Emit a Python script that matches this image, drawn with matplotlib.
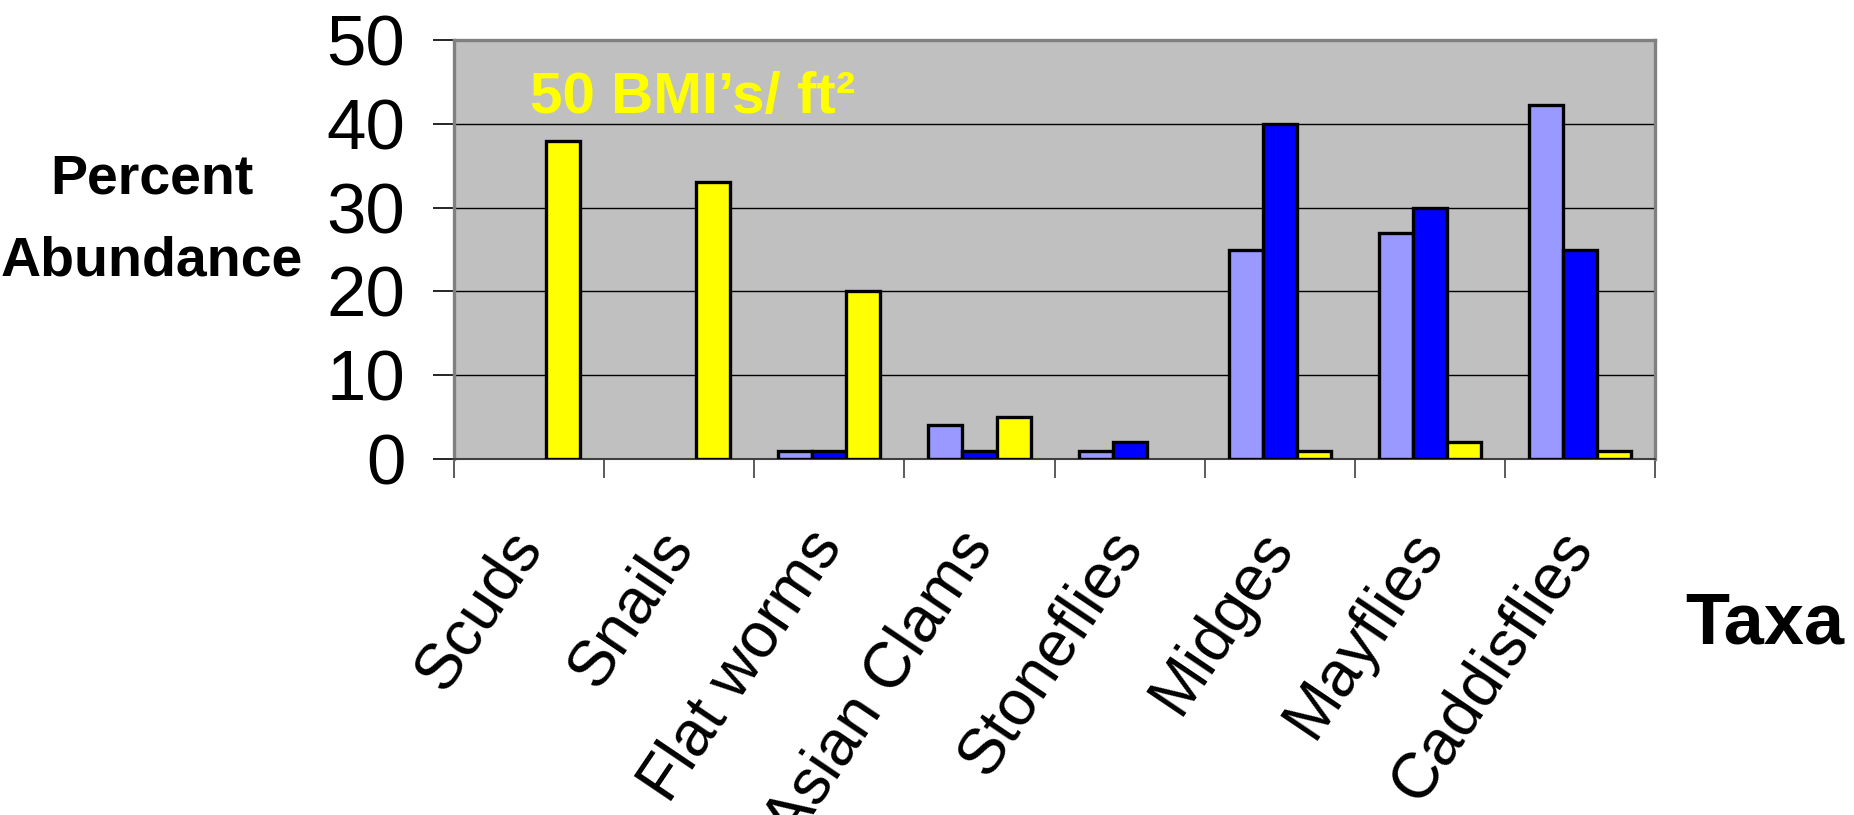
import numpy as np
import matplotlib
matplotlib.use("Agg")
import matplotlib.pyplot as plt

plt.rcParams['font.family'] = ['Liberation Sans', 'DejaVu Sans']

taxa = ['Scuds', 'Snails', 'Flat worms', 'Asian Clams', 'Stoneflies',
        'Midges', 'Mayflies', 'Caddisflies']
site_a = [0, 0, 1, 4.1, 1, 25, 27, 42.2]
site_b = [0, 0, 1, 1, 2, 40, 30, 25]
site_c = [38, 33, 20, 5, 0, 1, 2, 1]
series_colors = ['#9999FF', '#0000FF', '#FFFF00']

fig = plt.figure(figsize=(18.54, 8.15), dpi=100)
ax = fig.add_axes([0.2449, 0.4368, 0.6478, 0.5141])
ax.set_facecolor('#C0C0C0')

x = np.arange(len(taxa)) + 0.5
w = 0.227
for k, (vals, col) in enumerate(zip([site_a, site_b, site_c], series_colors)):
    vals = np.array(vals, dtype=float)
    keep = vals > 0
    ax.bar(x[keep] + (k - 1) * w, vals[keep], width=w, color=col,
           edgecolor='black', linewidth=2.4, zorder=3)

ax.set_xlim(0, len(taxa))
ax.set_ylim(0, 50)

# gridlines at the major y ticks
ax.set_yticks([0, 10, 20, 30, 40, 50])
ax.yaxis.grid(True, color='black', linewidth=1.0, zorder=1)
ax.set_axisbelow(True)
ax.tick_params(axis='y', direction='out', length=15, width=1.2,
               color='black', labelsize=51, pad=20)

# category boundaries as major ticks, names on minor ticks
ax.set_xticks(np.arange(len(taxa) + 1))
ax.set_xticklabels([])
ax.tick_params(axis='x', which='major', direction='out', length=14,
               width=1.2, color='#404040')
ax.set_xticks(x, minor=True)
ax.set_xticklabels(taxa, minor=True, fontsize=46)
ax.tick_params(axis='x', which='minor', length=0, pad=56)
for lbl in ax.get_xticklabels(minor=True):
    lbl.set_rotation(56)
    lbl.set_rotation_mode('anchor')
    lbl.set_ha('right')
    lbl.set_va('center')

for side in ['top', 'right', 'left']:
    ax.spines[side].set_color('#808080')
    ax.spines[side].set_linewidth(2.4)
ax.spines['bottom'].set_color('#404040')
ax.spines['bottom'].set_linewidth(1.5)

ax.text(0.0633, 0.8258, '50 BMI\u2019s/ ft\u00b2', transform=ax.transAxes,
        color='#FFFF00', fontsize=42, fontweight='bold',
        ha='left', va='baseline')

fig.text(152 / 1854, 1 - 193 / 815, 'Percent', fontsize=40,
         fontweight='bold', ha='center', va='baseline')
fig.text(152 / 1854, 1 - 275 / 815, 'Abundance', fontsize=40,
         fontweight='bold', ha='center', va='baseline')
fig.text(1765 / 1854, 1 - 644 / 815, 'Taxa', fontsize=52,
         fontweight='bold', ha='center', va='baseline')

fig.savefig('out.png', dpi=100)
